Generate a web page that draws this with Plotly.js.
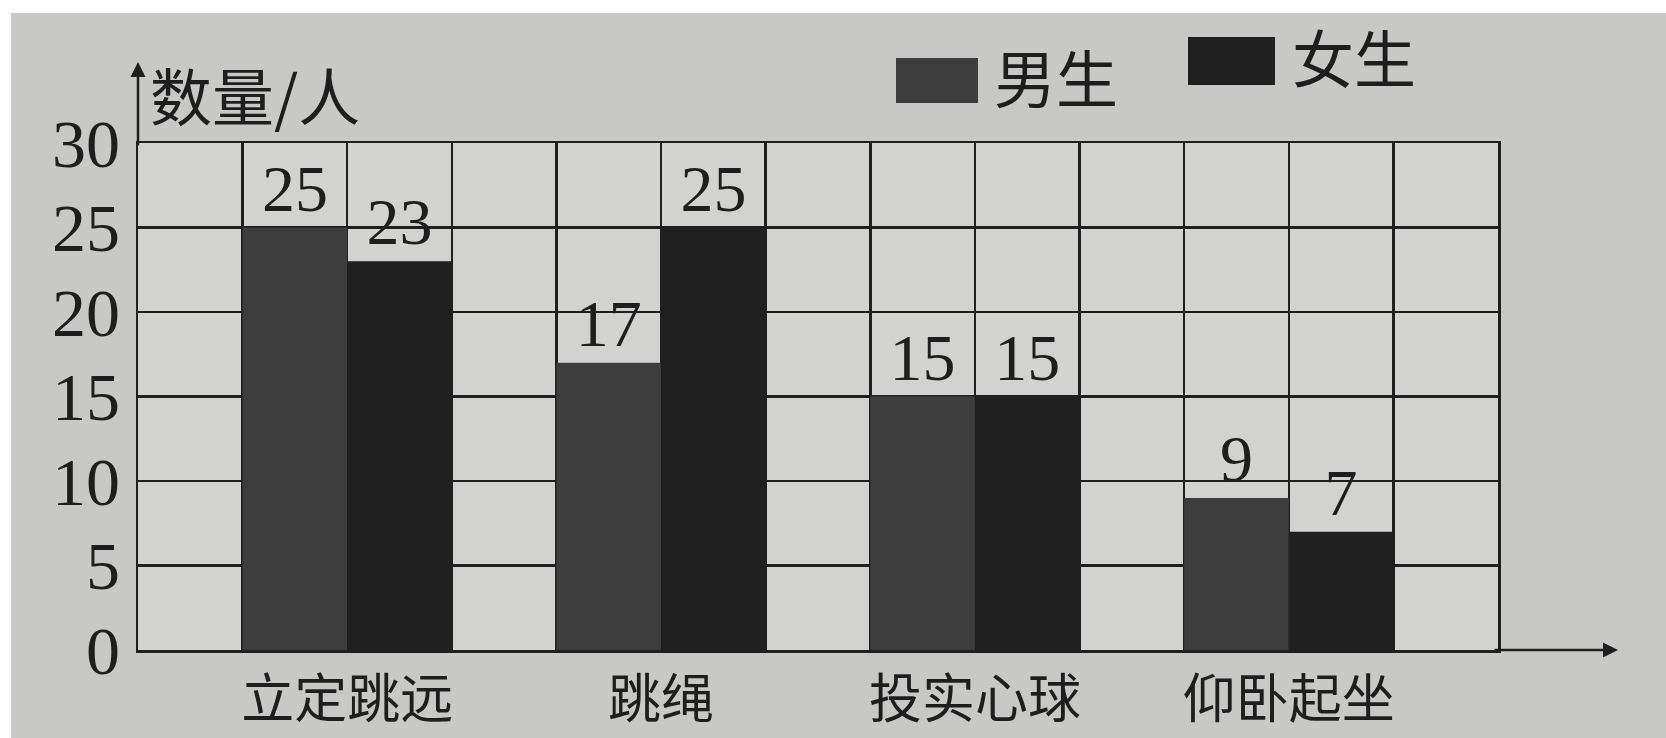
<!DOCTYPE html>
<html>
<head>
<meta charset="utf-8">
<script src="https://cdn.plot.ly/plotly-3.0.1.min.js"></script>
<style>html,body{margin:0;padding:0;background:#fff;}#chart{width:1666px;height:738px;}</style>
</head>
<body>
<div id="chart"></div>
<script>
const categories = ['立定跳远', '跳绳', '投实心球', '仰卧起坐'];
const boys = [25, 17, 15, 9];
const girls = [23, 25, 15, 7];
const seriesNames = ['男生', '女生'];
const yTicks = [0, 5, 10, 15, 20, 25, 30];
const yTitle = '数量/人';

// layout geometry (pixels)
const W = 1666, H = 738;
const L = 138, R = 168, T = 143, B = 88;
const pw = W - L - R, ph = H - T - B;
const px = v => (v - L) / pw;            // pixel x -> paper
const py = v => (H - B - v) / ph;        // pixel y -> paper

const nCols = categories.length * 3 + 1;
const boyX = categories.map((c, i) => 3 * i + 1.5);
const girlX = categories.map((c, i) => 3 * i + 2.5);
const catX = categories.map((c, i) => 3 * i + 2);

const serif = 'Liberation Serif, DejaVu Serif, serif';
const cjk = 'Noto Sans CJK SC, sans-serif';
const ink = '#1e1e1e';
const boyColor = '#3d3d3d', girlColor = '#202020', lineColor = '#1f1f1f';

const traces = [
  {type: 'bar', name: seriesNames[0], x: boyX, y: boys, width: 1,
   marker: {color: boyColor, line: {width: 0}},
   text: boys.map(String), textposition: 'outside', cliponaxis: false,
   textfont: {family: serif, size: 66, color: ink}, hoverinfo: 'skip'},
  {type: 'bar', name: seriesNames[1], x: girlX, y: girls, width: 1,
   marker: {color: girlColor, line: {width: 0}},
   text: girls.map(String), textposition: 'outside', cliponaxis: false,
   textfont: {family: serif, size: 66, color: ink}, hoverinfo: 'skip'}
];

const shapes = [
  {type: 'rect', xref: 'paper', yref: 'paper', layer: 'below',
   x0: px(11), x1: px(W), y0: py(H), y1: py(13),
   fillcolor: '#c8c8c6', line: {width: 0}},
  {type: 'rect', xref: 'paper', yref: 'paper', layer: 'below',
   x0: 0, x1: 1, y0: 0, y1: 1,
   fillcolor: '#d2d2d0', line: {width: 0}},
  // legend swatches
  {type: 'rect', xref: 'paper', yref: 'paper',
   x0: px(896), x1: px(978), y0: py(103), y1: py(58),
   fillcolor: boyColor, line: {width: 0}},
  {type: 'rect', xref: 'paper', yref: 'paper',
   x0: px(1188), x1: px(1275), y0: py(85), y1: py(37),
   fillcolor: girlColor, line: {width: 0}}
];

const annotations = [
  {xref: 'paper', yref: 'paper', x: px(148), y: py(94), xanchor: 'left', yanchor: 'middle',
   text: yTitle, showarrow: false, font: {family: cjk, size: 62, color: ink}},
  {xref: 'paper', yref: 'paper', x: px(992), y: py(76), xanchor: 'left', yanchor: 'middle',
   text: seriesNames[0], showarrow: false, font: {family: cjk, size: 62, color: ink}},
  {xref: 'paper', yref: 'paper', x: px(1290), y: py(56), xanchor: 'left', yanchor: 'middle',
   text: seriesNames[1], showarrow: false, font: {family: cjk, size: 62, color: ink}},
  // y-axis arrow
  {xref: 'paper', yref: 'paper', x: 0, y: py(62), axref: 'pixel', ayref: 'pixel', ax: 0, ay: 85,
   text: '', showarrow: true, arrowhead: 2, arrowsize: 1.2, arrowwidth: 2.5, arrowcolor: lineColor},
  // x-axis arrow
  {xref: 'paper', yref: 'paper', x: px(1618), y: 0, axref: 'pixel', ayref: 'pixel', ax: -125, ay: 0,
   text: '', showarrow: true, arrowhead: 2, arrowsize: 1.2, arrowwidth: 2.5, arrowcolor: lineColor}
];

const layout = {
  width: W, height: H,
  margin: {l: L, r: R, t: T, b: B, pad: 0},
  paper_bgcolor: '#ffffff',
  plot_bgcolor: 'rgba(0,0,0,0)',
  showlegend: false,
  barmode: 'overlay',
  xaxis: {
    range: [0, nCols], fixedrange: true,
    tickmode: 'array', tickvals: catX, ticktext: categories,
    tickfont: {family: cjk, size: 53, color: ink}, ticks: '', ticklabelstandoff: 2,
    showgrid: false, zeroline: false,
    showline: true, linecolor: lineColor, linewidth: 2.5, mirror: true,
    minor: {tickmode: 'linear', tick0: 0, dtick: 1, showgrid: true, gridcolor: lineColor, gridwidth: 2.5, ticks: ''}
  },
  yaxis: {
    range: [0, 30], fixedrange: true,
    tickmode: 'array', tickvals: yTicks, ticktext: yTicks.map(String),
    tickfont: {family: serif, size: 68, color: ink}, ticks: '', ticklabelstandoff: 2,
    showgrid: true, gridcolor: lineColor, gridwidth: 2.5,
    zeroline: false, showline: true, linecolor: lineColor, linewidth: 2.5, mirror: true
  },
  shapes: shapes,
  annotations: annotations
};

Plotly.newPlot('chart', traces, layout, {displayModeBar: false, staticPlot: true});
</script>
</body>
</html>
